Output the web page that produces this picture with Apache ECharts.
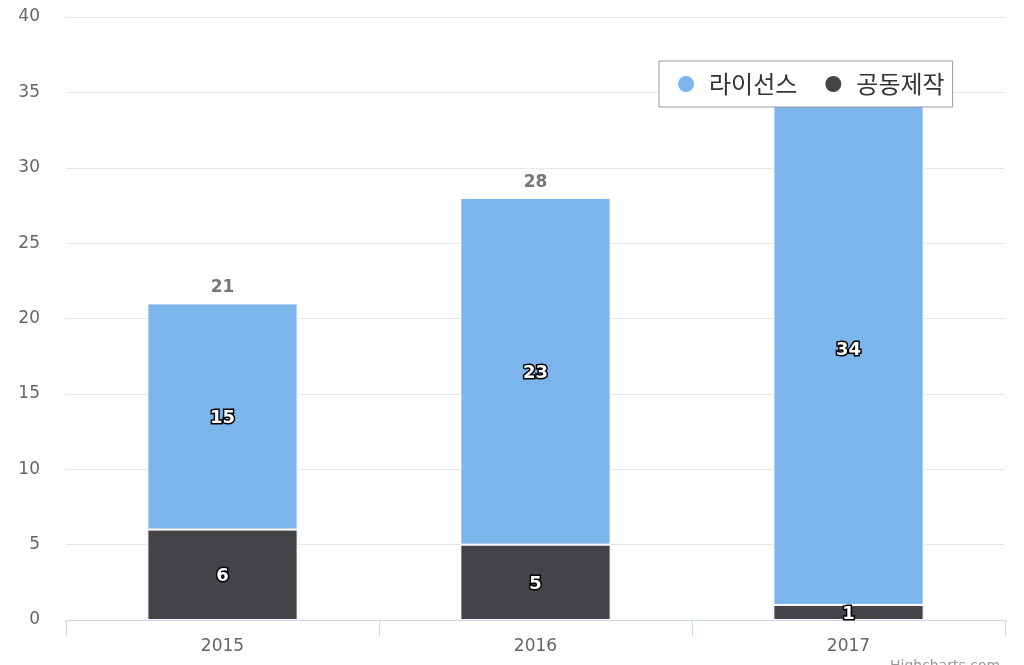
<!DOCTYPE html>
<html><head><meta charset="utf-8">
<script src="https://cdn.jsdelivr.net/npm/echarts@6/dist/echarts.min.js"></script>
<style>html,body{margin:0;padding:0;background:#fff}#c{width:1024px;height:665px}</style>
</head><body><div id="c"></div>
<script>
const categories = ['2015', '2016', '2017'];
const licenseName = '라이선스';
const coprodName = '공동제작';
const licenseValues = [15, 23, 34];
const coprodValues = [6, 5, 1];
const totals = categories.map((c, i) => licenseValues[i] + coprodValues[i]);

const font = 'DejaVu Sans, Noto Sans CJK KR, sans-serif';
const inLabel = {
  show: true, position: 'inside', color: '#fff', fontWeight: 'bold', fontSize: 18,
  fontFamily: font, textBorderColor: '#000', textBorderWidth: 3, offset: [0, 2]
};
const chart = echarts.init(document.getElementById('c'));
chart.setOption({
  animation: false,
  grid: { left: 66, right: 19, top: 17, bottom: 45 },
  legend: {
    data: [licenseName, coprodName], left: 659, top: 61,
    backgroundColor: '#fff', borderColor: '#999', borderWidth: 1,
    padding: [10, 8, 10, 17], itemGap: 26, icon: 'circle', itemWidth: 18, itemHeight: 18,
    textStyle: { fontSize: 24, lineHeight: 26, color: '#333', fontFamily: 'Noto Sans CJK KR, sans-serif', padding: [0, 0, 0, 9] },
    z: 10
  },
  xAxis: {
    type: 'category', data: categories,
    axisLine: { lineStyle: { color: '#ccd6eb' } },
    axisTick: { show: true, length: 16, lineStyle: { color: '#ccd6eb' } },
    axisLabel: { color: '#666', fontSize: 17, fontFamily: font, margin: 18 }
  },
  yAxis: {
    type: 'value', min: 0, max: 40, interval: 5,
    splitLine: { lineStyle: { color: '#e6e6e6' } },
    axisLine: { show: false }, axisTick: { show: false },
    axisLabel: { color: '#666', fontSize: 17, fontFamily: font, margin: 26 }
  },
  series: [
    { name: coprodName, type: 'bar', stack: 's', data: coprodValues, barWidth: '48%',
      itemStyle: { color: '#434348', borderColor: '#fff', borderWidth: 1 }, label: inLabel },
    { name: licenseName, type: 'bar', stack: 's', data: licenseValues, barWidth: '48%',
      itemStyle: { color: '#7cb5ec', borderColor: '#fff', borderWidth: 1 }, label: inLabel },
    { name: 'total', type: 'bar', stack: 's', data: categories.map(() => 0), barWidth: '48%',
      itemStyle: { color: 'transparent' }, silent: true,
      label: { show: true, position: 'top', distance: 7, color: '#777', fontWeight: 'bold', fontSize: 17,
        fontFamily: font, formatter: p => totals[p.dataIndex] } }
  ],
  graphic: [{ type: 'text', left: 890, top: 659, style: { text: 'Highcharts.com', fill: '#999', fontSize: 14, fontFamily: font } }]
});
</script></body></html>
